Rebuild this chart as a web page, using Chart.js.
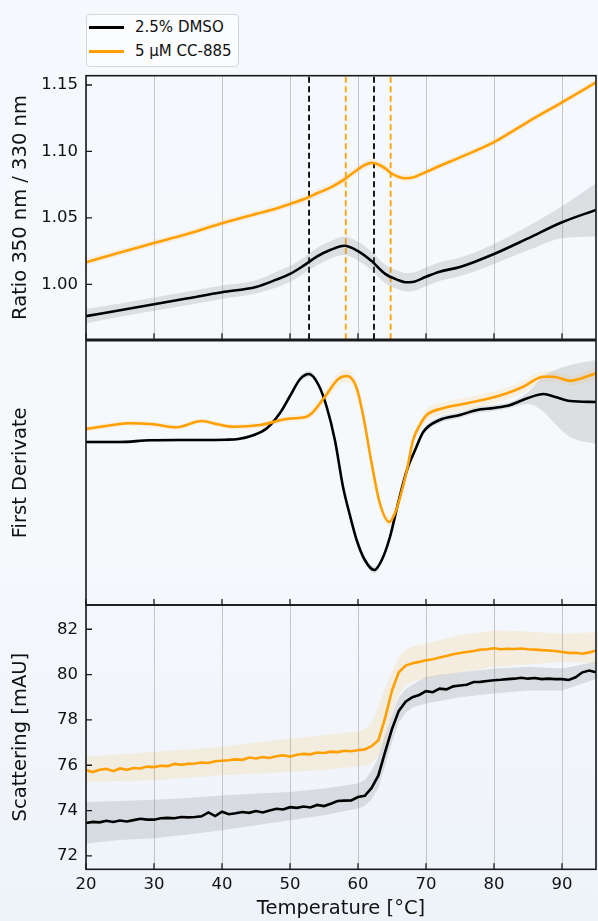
<!DOCTYPE html>
<html>
<head>
<meta charset="utf-8">
<script src="https://cdn.jsdelivr.net/npm/chart.js@4.4.1/dist/chart.umd.min.js"></script>
<style>
  html, body { margin: 0; padding: 0; }
  body {
    width: 598px; height: 921px; overflow: hidden; position: relative;
    background: linear-gradient(#f5f8fc 0%, #f6f9fc 55%, #eef3fa 100%);
    font-family: "DejaVu Sans", sans-serif;
  }
  canvas { position: absolute; left: 0; }
  #legend {
    position: absolute; left: 86px; top: 14px; width: 151px; height: 51px;
    border: 1.5px solid #d4d6d9; border-radius: 4px; background: rgba(255,255,255,0.55);
    font-size: 15px; color: #111;
  }
  .item { position: absolute; left: 0; height: 20px; }
  .swatch { position: absolute; left: 2px; width: 35px; height: 3px; top: 9px; }
  .label { position: absolute; left: 48px; top: 0; line-height: 20px; white-space: nowrap; }
</style>
</head>
<body>
<div id="legend"></div>
<canvas id="ratioChart" width="598" height="280" style="top:65px"></canvas>
<canvas id="derivChart" width="598" height="275" style="top:335px"></canvas>
<canvas id="scatterChart" width="598" height="335" style="top:595px"></canvas>
<script>
// ---- series names / colours ----
const seriesNames = ["2.5% DMSO", "5 µM CC-885"];
const seriesColors = ["#000000", "#ff9f00"];
const bandColors = ["rgba(128,130,136,0.22)", "rgba(255,165,0,0.11)"];

// ---- shared x axis ----
const xMin = 20, xMax = 95;
const xTicks = [20, 30, 40, 50, 60, 70, 80, 90];

// ---- panel 1: ratio 350/330 ----
const ratioDmsoTemps = [20, 25, 30, 35, 40, 45, 48, 50, 52, 54, 56, 58, 60, 62, 64, 66, 67, 68, 70, 72, 75, 80, 85, 90, 95];
const ratioDmso = [0.976, 0.9805, 0.985, 0.9895, 0.994, 0.998, 1.0035, 1.0078, 1.014, 1.021, 1.026, 1.029, 1.025, 1.0175, 1.0078, 1.003, 1.0015, 1.0017, 1.0057, 1.0095, 1.013, 1.0228, 1.0346, 1.0467, 1.056];
const ratioDmsoSd = [0.0055, 0.005, 0.005, 0.005, 0.005, 0.005, 0.006, 0.006, 0.006, 0.0065, 0.0065, 0.007, 0.007, 0.007, 0.007, 0.007, 0.007, 0.007, 0.007, 0.007, 0.007, 0.0075, 0.009, 0.012, 0.02];
const ratioCcTemps = [20, 25, 30, 35, 40, 45, 48, 50, 52, 54, 56, 58, 60, 61, 62, 63, 64, 65, 66, 67, 68, 70, 72, 75, 80, 85, 90, 95];
const ratioCc = [1.0166, 1.024, 1.031, 1.038, 1.046, 1.053, 1.057, 1.0605, 1.064, 1.0685, 1.073, 1.079, 1.0866, 1.0898, 1.0914, 1.0902, 1.0872, 1.0832, 1.0808, 1.0798, 1.0803, 1.0845, 1.089, 1.0955, 1.107, 1.1223, 1.137, 1.152];
const ratioCcSd = [0.0026, 0.0025, 0.0025, 0.0025, 0.0025, 0.0025, 0.0025, 0.0025, 0.003, 0.003, 0.003, 0.003, 0.003, 0.003, 0.003, 0.003, 0.003, 0.0025, 0.0025, 0.0025, 0.0025, 0.0025, 0.0025, 0.0025, 0.0025, 0.0025, 0.0025, 0.0025];
const meltDmso = [52.8, 62.35];
const meltCc = [58.2, 64.8];
const ratioMin = 0.9586, ratioMax = 1.157;

// ---- panel 2: first derivative (arb. units) ----
const derivDmsoTemps = [20, 25, 29.4, 35, 40.7, 42.4, 44.6, 46.6, 48.5, 50, 51.5, 52.8, 54.2, 55.4, 56.6, 57.8, 58.8, 59.8, 61, 62.4, 63.5, 64.7, 65.9, 67.2, 68.4, 69.6, 72, 75, 77.5, 80, 82.4, 85, 87.3, 89, 91.2, 95];
const derivDmso = [0, 0, 0.17, 0.2, 0.23, 0.3, 0.67, 1.37, 2.87, 4.6, 6.3, 6.8, 5.7, 3.5, 0.2, -4.5, -7.3, -9.8, -11.8, -12.8, -11.8, -9.5, -6.1, -2.8, -0.8, 1.0, 2.2, 2.7, 3.2, 3.4, 3.7, 4.4, 4.8, 4.5, 4.1, 4.0];
const derivDmsoSd = [0.15, 0.15, 0.15, 0.15, 0.15, 0.15, 0.15, 0.2, 0.2, 0.25, 0.3, 0.3, 0.3, 0.3, 0.3, 0.3, 0.3, 0.3, 0.3, 0.35, 0.3, 0.3, 0.3, 0.3, 0.3, 0.3, 0.3, 0.3, 0.3, 0.3, 0.3, 0.6, 1.8, 2.7, 3.6, 4.2];
const derivCcTemps = [20, 23, 26.2, 29.9, 33.3, 37, 39.5, 41.7, 45.6, 50, 52.2, 53.2, 55.1, 57.1, 58.4, 59.8, 60.8, 62, 63.2, 64.6, 65.5, 66.2, 67.2, 68.1, 69.1, 70.1, 72.5, 75.5, 79.4, 81.9, 84.3, 87.3, 88.7, 91.2, 95];
const derivCc = [1.3, 1.6, 1.87, 1.77, 1.47, 2.1, 1.75, 1.53, 1.7, 2.35, 2.47, 2.87, 4.5, 6.3, 6.6, 5.4, 2.5, -2.1, -6.1, -8.0, -7.0, -5.5, -2.8, 0.2, 1.7, 2.7, 3.37, 3.8, 4.37, 4.87, 5.53, 6.53, 6.53, 6.13, 6.87];
const derivCcSd = [0.25, 0.25, 0.25, 0.25, 0.25, 0.25, 0.25, 0.25, 0.25, 0.3, 0.3, 0.4, 0.5, 0.6, 0.6, 0.6, 0.5, 0.4, 0.4, 0.5, 0.5, 0.4, 0.4, 0.4, 0.5, 0.6, 0.6, 0.6, 0.6, 0.6, 0.6, 0.5, 0.5, 0.5, 0.6];
const derivMin = -16.3, derivMax = 10.13;

// ---- panel 3: scattering [mAU] ----
const scatterTemps = [20, 21, 22, 23, 24, 25, 26, 27, 28, 29, 30, 31, 32, 33, 34, 35, 36, 37, 38, 39, 40, 41, 42, 43, 44, 45, 46, 47, 48, 49, 50, 51, 52, 53, 54, 55, 56, 57, 58, 59, 60, 61, 62, 63, 64, 65, 66, 67, 68, 69, 70, 71, 72, 73, 74, 75, 76, 77, 78, 79, 80, 81, 82, 83, 84, 85, 86, 87, 88, 89, 90, 91, 92, 93, 94, 95];
const scatterDmso = [73.45, 73.5, 73.48, 73.55, 73.5, 73.56, 73.52, 73.58, 73.64, 73.6, 73.6, 73.66, 73.68, 73.66, 73.72, 73.7, 73.72, 73.75, 73.92, 73.76, 73.95, 73.84, 73.88, 73.94, 73.9, 73.98, 73.92, 74.0, 74.08, 74.05, 74.15, 74.12, 74.18, 74.14, 74.25, 74.2, 74.3, 74.42, 74.44, 74.45, 74.6, 74.65, 75.0, 75.55, 76.6, 77.6, 78.4, 78.8, 79.0, 79.1, 79.27, 79.22, 79.38, 79.35, 79.48, 79.52, 79.55, 79.67, 79.68, 79.72, 79.75, 79.77, 79.8, 79.82, 79.86, 79.82, 79.85, 79.8, 79.82, 79.8, 79.8, 79.76, 79.88, 80.1, 80.18, 80.1];
const scatterCc = [75.78, 75.7, 75.8, 75.84, 75.74, 75.86, 75.8, 75.88, 75.86, 75.94, 75.92, 75.98, 75.96, 76.06, 76.02, 76.06, 76.08, 76.12, 76.1, 76.18, 76.2, 76.22, 76.26, 76.24, 76.34, 76.3, 76.36, 76.32, 76.4, 76.44, 76.38, 76.46, 76.5, 76.48, 76.56, 76.54, 76.6, 76.58, 76.64, 76.62, 76.66, 76.7, 76.84, 77.1, 78.1, 79.3, 80.1, 80.4, 80.5, 80.56, 80.63, 80.68, 80.75, 80.82, 80.9, 80.95, 81.0, 81.04, 81.1, 81.12, 81.16, 81.12, 81.14, 81.13, 81.15, 81.12, 81.1, 81.08, 81.06, 81.04, 81.0, 80.96, 80.96, 80.92, 80.98, 81.05];
const scatterBandTemps = [20, 25, 30, 35, 40, 45, 50, 55, 60, 61, 62, 63, 64, 65, 66, 67, 68, 70, 75, 80, 85, 90, 95];
const scatterDmsoLo = [72.55, 72.7, 72.78, 72.95, 73.13, 73.35, 73.57, 73.79, 74.09, 74.2, 74.5, 75.0, 76.0, 77.0, 77.9, 78.3, 78.55, 78.73, 79.0, 79.17, 79.3, 79.3, 79.8];
const scatterDmsoHi = [74.38, 74.42, 74.48, 74.55, 74.67, 74.75, 74.82, 74.97, 75.19, 75.35, 75.75, 76.35, 77.35, 78.2, 79.0, 79.35, 79.55, 79.9, 80.1, 80.27, 80.35, 80.27, 80.57];
const scatterCcLo = [75.26, 75.3, 75.34, 75.45, 75.56, 75.63, 75.7, 75.78, 75.96, 76.0, 76.1, 76.4, 77.0, 78.2, 79.1, 79.55, 79.7, 79.83, 80.1, 80.35, 80.45, 80.55, 80.5];
const scatterCcHi = [76.37, 76.48, 76.6, 76.7, 76.8, 77.0, 77.17, 77.32, 77.5, 77.6, 77.85, 78.6, 79.4, 80.1, 80.8, 81.1, 81.25, 81.37, 81.75, 81.96, 81.9, 81.8, 81.88];
const scatterMin = 71.41, scatterMax = 83.07;

// ---- legend ----
const legendEl = document.getElementById('legend');
seriesNames.forEach((name, i) => {
    const item = document.createElement('div');
    item.className = 'item';
    item.style.top = (2 + i * 24) + 'px';
    item.innerHTML = `<div class="swatch" style="background:${seriesColors[i]}"></div><div class="label">${name}</div>`;
    legendEl.appendChild(item);
});

// ---- helpers ----
const FONT = "'DejaVu Sans', sans-serif";
const pts = (xs, ys) => xs.map((x, i) => ({ x: x, y: ys[i] }));
const shift = (xs, ys, sd, sign) => xs.map((x, i) => ({ x: x, y: ys[i] + sign * sd[i] }));

function lineSet(data, idx, mode) {
    return {
        data: data, borderColor: seriesColors[idx], borderWidth: 2.6, pointRadius: 0,
        fill: false, order: idx === 0 ? 1 : 0,
        cubicInterpolationMode: mode === 'smooth' ? 'monotone' : 'default', tension: 0
    };
}
function bandSets(lo, hi, idx, mode) {
    const base = { pointRadius: 0, borderWidth: 0, order: 3, tension: 0,
        cubicInterpolationMode: mode === 'smooth' ? 'monotone' : 'default' };
    return [
        Object.assign({ data: lo, fill: false }, base),
        Object.assign({ data: hi, fill: '-1', backgroundColor: bandColors[idx] }, base)
    ];
}
function dashSet(t, idx, lo, hi) {
    return { data: [{ x: t, y: lo }, { x: t, y: hi }], borderColor: seriesColors[idx],
        borderWidth: 1.8, borderDash: [6, 3.5], pointRadius: 0, fill: false, order: 5 };
}

// frame + inward ticks
const frameTicks = {
    id: 'frameTicks',
    afterDraw(chart, args, opts) {
        const { ctx, chartArea: a, scales } = chart;
        ctx.save();
        ctx.strokeStyle = '#1a1a1a';
        ctx.lineWidth = 1.3;
        ctx.beginPath();
        scales.x.ticks.forEach(t => {
            const px = scales.x.getPixelForValue(t.value);
            ctx.moveTo(px, a.bottom); ctx.lineTo(px, a.bottom - 6);
        });
        if (opts.yTicks) {
            scales.y.ticks.forEach(t => {
                const py = scales.y.getPixelForValue(t.value);
                ctx.moveTo(a.left, py); ctx.lineTo(a.left + 6, py);
            });
        }
        ctx.stroke();
        ctx.lineWidth = 1.6;
        ctx.strokeRect(a.left, a.top, a.right - a.left, a.bottom - a.top);
        ctx.restore();
    }
};

function xAxis(showLabels, showGrid) {
    return {
        type: 'linear', min: xMin, max: xMax,
        afterBuildTicks: s => { s.ticks = xTicks.map(v => ({ value: v })); },
        grid: { display: showGrid, drawTicks: false, color: 'rgba(0,0,0,0.2)', lineWidth: 1 },
        border: { display: false },
        ticks: { display: showLabels, padding: 5.7, color: '#111', maxRotation: 0,
            font: { family: FONT, size: 16.5 } },
        title: { display: showLabels, text: 'Temperature [°C]', color: '#111',
            font: { family: FONT, size: 19.5 }, padding: { top: 0, bottom: 9.3 } },
        afterFit: s => { s.height = showLabels ? 60.7 : 0; s.paddingLeft = 0; s.paddingRight = 0; }
    };
}
function yAxis(title, min, max, step, showTicks, fmt) {
    return {
        type: 'linear', min: min, max: max,
        grid: { display: false, drawTicks: false },
        border: { display: false },
        ticks: { display: showTicks, stepSize: step, includeBounds: false, padding: 8, color: '#111',
            font: { family: FONT, size: 16.5 }, callback: fmt },
        title: { display: true, text: title, color: '#111',
            font: { family: FONT, size: 19.5 }, padding: { top: 9, bottom: 0 } },
        afterFit: s => { s.width = 86; s.paddingTop = 0; s.paddingBottom = 0; }
    };
}
function baseOptions(x, y, padding, yTicks) {
    return {
        responsive: false, animation: false, devicePixelRatio: 1,
        layout: { padding: padding },
        scales: { x: x, y: y },
        plugins: { legend: { display: false }, tooltip: { enabled: false }, frameTicks: { yTicks: yTicks } }
    };
}

// ---- chart 1: ratio ----
new Chart(document.getElementById('ratioChart'), {
    type: 'line',
    data: {
        datasets: [
            lineSet(pts(ratioDmsoTemps, ratioDmso), 0, 'smooth'),
            lineSet(pts(ratioCcTemps, ratioCc), 1, 'smooth'),
            ...bandSets(shift(ratioDmsoTemps, ratioDmso, ratioDmsoSd, -1), shift(ratioDmsoTemps, ratioDmso, ratioDmsoSd, 1), 0, 'smooth'),
            ...bandSets(shift(ratioCcTemps, ratioCc, ratioCcSd, -1), shift(ratioCcTemps, ratioCc, ratioCcSd, 1), 1, 'smooth'),
            ...meltDmso.map(t => dashSet(t, 0, ratioMin, ratioMax)),
            ...meltCc.map(t => dashSet(t, 1, ratioMin, ratioMax))
        ]
    },
    options: baseOptions(xAxis(false, true),
        yAxis('Ratio 350 nm / 330 nm', ratioMin, ratioMax, 0.05, true, v => v.toFixed(2)),
        { top: 10.7, bottom: 5.7, left: 0, right: 2 }, true),
    plugins: [frameTicks]
});

// ---- chart 2: first derivative ----
new Chart(document.getElementById('derivChart'), {
    type: 'line',
    data: {
        datasets: [
            lineSet(pts(derivDmsoTemps, derivDmso), 0, 'smooth'),
            lineSet(pts(derivCcTemps, derivCc), 1, 'smooth'),
            ...bandSets(shift(derivDmsoTemps, derivDmso, derivDmsoSd, -1), shift(derivDmsoTemps, derivDmso, derivDmsoSd, 1), 0, 'smooth'),
            ...bandSets(shift(derivCcTemps, derivCc, derivCcSd, -1), shift(derivCcTemps, derivCc, derivCcSd, 1), 1, 'smooth')
        ]
    },
    options: baseOptions(xAxis(false, false),
        yAxis('First Derivate', derivMin, derivMax, 5, false),
        { top: 5.7, bottom: 5, left: 0, right: 2 }, false),
    plugins: [frameTicks]
});

// ---- chart 3: scattering ----
new Chart(document.getElementById('scatterChart'), {
    type: 'line',
    data: {
        datasets: [
            lineSet(pts(scatterTemps, scatterDmso), 0, 'raw'),
            lineSet(pts(scatterTemps, scatterCc), 1, 'raw'),
            ...bandSets(pts(scatterBandTemps, scatterDmsoLo), pts(scatterBandTemps, scatterDmsoHi), 0, 'raw'),
            ...bandSets(pts(scatterBandTemps, scatterCcLo), pts(scatterBandTemps, scatterCcHi), 1, 'raw')
        ]
    },
    options: baseOptions(xAxis(true, true),
        yAxis('Scattering [mAU]', scatterMin, scatterMax, 2, true, v => String(v)),
        { top: 10, bottom: 0, left: 0, right: 2 }, true),
    plugins: [frameTicks]
});
</script>
</body>
</html>
